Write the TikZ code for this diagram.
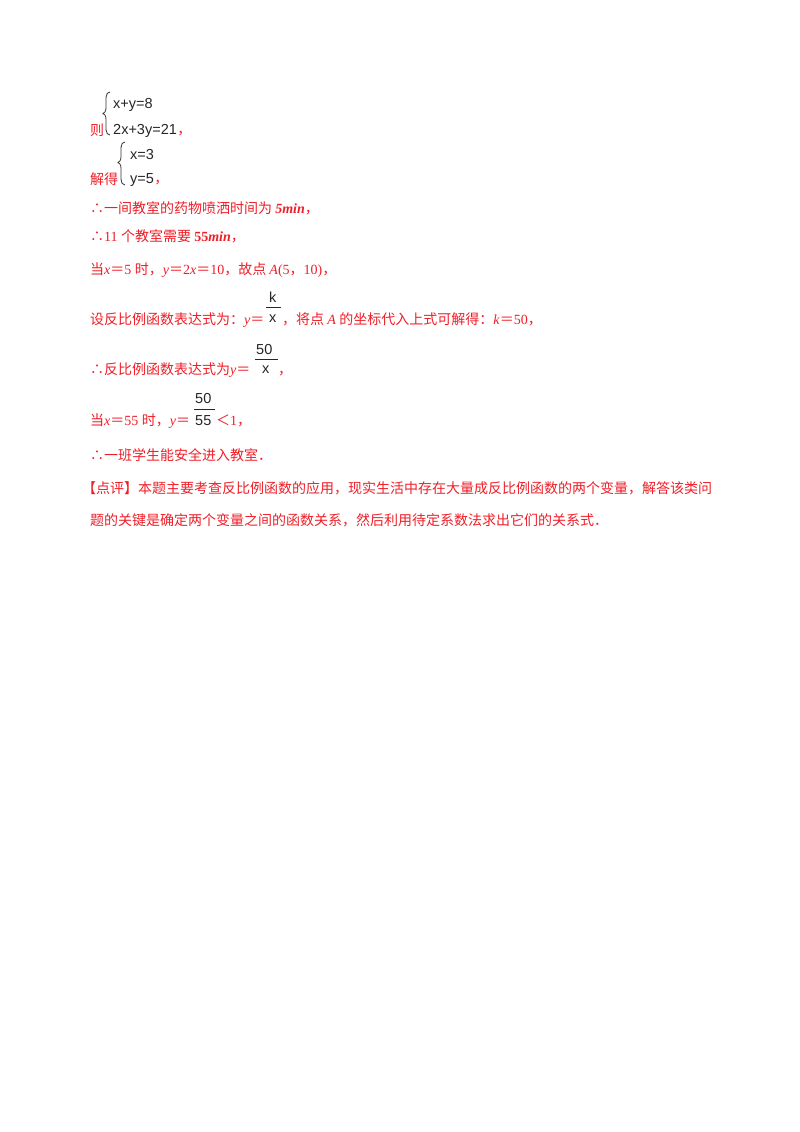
\documentclass[tikz,border=0pt]{standalone}
\usepackage{fontspec}
\setmainfont{Liberation Serif}
\newfontfamily\cjk{Noto Sans CJK SC}
\newfontfamily\eq{Liberation Sans}
\newcommand\myeq{{\cjk ＝}}
\definecolor{rd}{RGB}{240,30,40}
\begin{document}
\begin{tikzpicture}[x=1pt,y=-1pt,
 t/.style={anchor=base west,inner sep=0,text=rd,font=\fontsize{14}{14}\selectfont},
 e/.style={anchor=base west,inner sep=0,text=black!85,font=\eq\fontsize{14.5}{14.5}\selectfont}]
\fill[white] (0,0) rectangle (800,1132);
\useasboundingbox (0,0) rectangle (800,1132);
% system 1
\node[t] (l1) at (90,135) {\cjk 则};
\draw[black!80,line width=0.8] (110,92) .. controls (105,92) and (106,100) .. (106,108) .. controls (106,112) and (104,113) .. (103,113.5) .. controls (104,114) and (106,115) .. (106,119) .. controls (106,127) and (105,135) .. (110,135);
\node[e] (e1) at (113,108) {x+y=8};
\node[e] (e2) at (113,134) {2x+3y=21};
\node[t] (c1) at (e2.base east) {\cjk ，};
% system 2
\node[t] (l2) at (90,184) {\cjk 解得};
\draw[black!80,line width=0.8] (125,142) .. controls (120,142) and (121,150) .. (121,157) .. controls (121,161) and (119,162) .. (118,162.5) .. controls (119,163) and (121,164) .. (121,168) .. controls (121,176) and (120,185) .. (125,185);
\node[e] (e3) at (130,159) {x=3};
\node[e] (e4) at (130,183) {y=5};
\node[t] (c2) at (e4.base east) {\cjk ，};
\node[t] (l3) at (90,213) {\cjk ∴一间教室的药物喷洒时间为 \rmfamily\textbf{\textit{5min}}\cjk ，};
\node[t] (l4) at (90,241) {\cjk ∴\rmfamily 11 \cjk 个教室需要 \rmfamily\textbf{55\textit{min}}\cjk ，};
\node[t] (l5) at (90,274) {\cjk 当\rmfamily\textit{x}\myeq 5 \cjk 时，\rmfamily\textit{y}\myeq 2\textit{x}\myeq 10\cjk ，故点 \rmfamily\textit{A}(5\cjk ，\rmfamily 10)\cjk ，};
% line 6
\node[t] (l6) at (90,324) {\cjk 设反比例函数表达式为：\rmfamily\textit{y}\myeq};
\node[e] (k) at (269,302) {k};
\draw[black!85] (266,307) -- (281,307);
\node[e] (kx) at (269,322) {x};
\node[t] (l6b) at (282,324) {\cjk ，将点 \rmfamily\textit{A} \cjk 的坐标代入上式可解得：\rmfamily\textit{k}\myeq 50\cjk ，};
% line 7
\node[t] (l7) at (90,374) {\cjk ∴反比例函数表达式为\rmfamily\textit{y}\myeq};
\node[e] (n2) at (256,354) {50};
\draw[black!85] (255,359) -- (278,359);
\node[e] (d2) at (262,373) {x};
\node[t] (c7) at (278,374) {\cjk ，};
% line 8
\node[t] (l8) at (90,425) {\cjk 当\rmfamily\textit{x}\myeq 55 \cjk 时，\rmfamily\textit{y}\myeq};
\node[e] (n3) at (195,403) {50};
\draw[black!85] (194,409) -- (215,409);
\node[e] (d3) at (195,425) {55};
\node[t] (l8b) at (216,425) {{\cjk ＜}1\cjk ，};
\node[t] (l9) at (90,460) {\cjk ∴一班学生能安全进入教室．};
\node[t] (l10) at (82,493) {\cjk 【点评】本题主要考查反比例函数的应用，现实生活中存在大量成反比例函数的两个变量，解答该类问};
\node[t] (l11) at (90,525) {\cjk 题的关键是确定两个变量之间的函数关系，然后利用待定系数法求出它们的关系式．};
\end{tikzpicture}
\end{document}
